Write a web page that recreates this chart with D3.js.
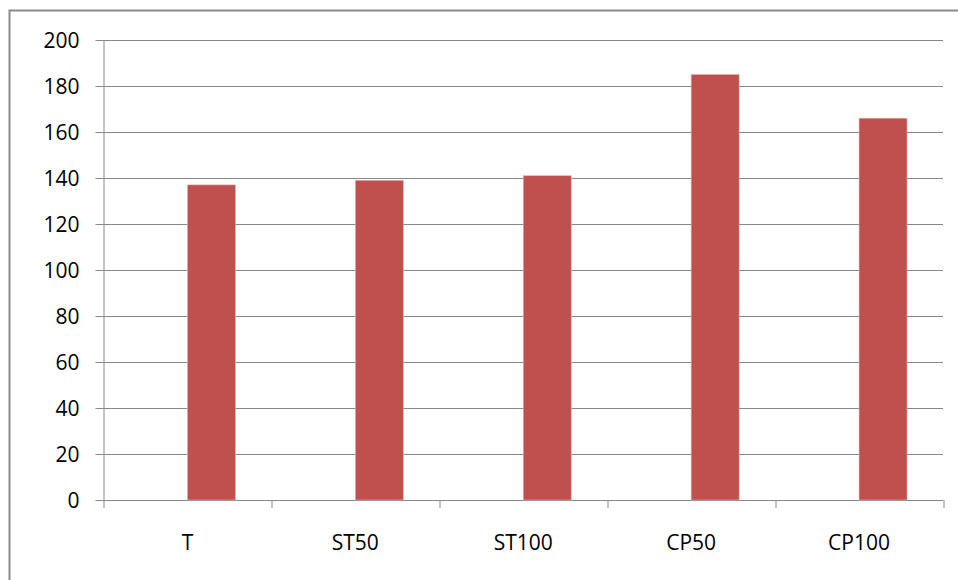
<!DOCTYPE html>
<html>
<head>
<meta charset="utf-8">
<script src="https://cdn.jsdelivr.net/npm/d3@7"></script>
<style>
  html, body { margin: 0; padding: 0; background: #fff; }
  svg { display: block; }
  text { font-family: "Open Sans", sans-serif; fill: #000; }
</style>
</head>
<body>
<div id="chart"></div>
<script>
// Chart data
const categories = ['T', 'ST50', 'ST100', 'CP50', 'CP100'];
const values = [137, 139, 141, 185, 166];
// Excel-style cluster: an empty first series takes the left slot
const seriesSlots = ['empty', 'values'];
const yTicks = [0, 20, 40, 60, 80, 100, 120, 140, 160, 180, 200];

const W = 958, H = 580;
const margin = { top: 40, right: 15, bottom: 80, left: 103.5 };
const width = W - margin.left - margin.right;
const height = H - margin.top - margin.bottom;

const svg = d3.select('#chart')
    .append('svg')
    .attr('width', W)
    .attr('height', H);

// Outer frame (left and top edges visible)
svg.append('rect')
    .attr('x', 9.5)
    .attr('y', 10.5)
    .attr('width', 1200)
    .attr('height', 1200)
    .attr('fill', 'none')
    .attr('stroke', '#8a8a8a')
    .attr('stroke-width', 2);

const g = svg.append('g')
    .attr('transform', `translate(${margin.left},${margin.top})`);

const x = d3.scaleBand()
    .domain(categories)
    .range([0, width])
    .padding(0);

const x1 = d3.scaleBand()
    .domain(seriesSlots)
    .range([0, x.bandwidth()])
    .paddingInner(0)
    .paddingOuter(0.75);

const y = d3.scaleLinear()
    .domain([0, 200])
    .range([height, 0]);

// Gridlines with left tick marks
g.append('g')
    .selectAll('line')
    .data(yTicks)
    .enter()
    .append('line')
    .attr('x1', -8)
    .attr('x2', width)
    .attr('y1', d => Math.round(y(d)) + 0.5)
    .attr('y2', d => Math.round(y(d)) + 0.5)
    .attr('stroke', '#888')
    .attr('stroke-width', 1);

// Y labels
g.append('g')
    .selectAll('text')
    .data(yTicks)
    .enter()
    .append('text')
    .attr('x', -24)
    .attr('y', d => y(d))
    .attr('dy', '0.36em')
    .attr('text-anchor', 'end')
    .attr('font-size', '21px')
    .attr('fill', '#1a1a1a')
    .text(d => d);

// Y axis line
g.append('line')
    .attr('x1', 0.5)
    .attr('x2', 0.5)
    .attr('y1', 0)
    .attr('y2', height)
    .attr('stroke', '#888');

// Category ticks at band edges
const edges = categories.map(c => x(c)).concat([width]);
g.append('g')
    .selectAll('line')
    .data(edges)
    .enter()
    .append('line')
    .attr('x1', d => Math.round(d) + 0.5)
    .attr('x2', d => Math.round(d) + 0.5)
    .attr('y1', height)
    .attr('y2', height + 8)
    .attr('stroke', '#888');

// Bars
g.append('g')
    .selectAll('rect')
    .data(values)
    .enter()
    .append('rect')
    .attr('x', (d, i) => x(categories[i]) + x1('values'))
    .attr('y', d => y(d))
    .attr('width', x1.bandwidth())
    .attr('height', d => height - y(d))
    .attr('fill', '#c0504d')
    .attr('stroke', '#e6b3b2')
    .attr('stroke-width', 0.6);

// Category labels
g.append('g')
    .selectAll('text')
    .data(categories)
    .enter()
    .append('text')
    .attr('x', d => x(d) + x.bandwidth() / 2)
    .attr('y', height + 42)
    .attr('dy', '0.36em')
    .attr('text-anchor', 'middle')
    .attr('font-size', '21px')
    .attr('fill', '#1a1a1a')
    .text(d => d);
</script>
</body>
</html>
